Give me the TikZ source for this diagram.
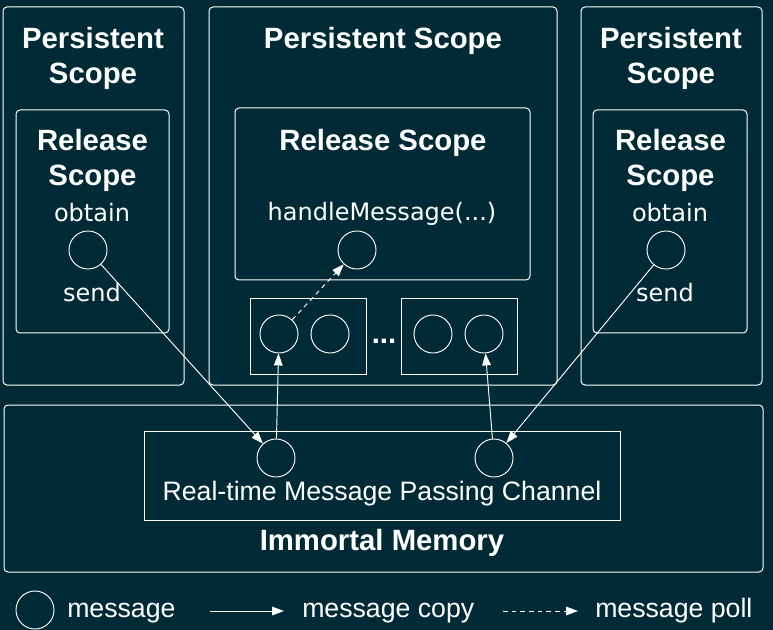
\documentclass[tikz,border=0pt]{standalone}
\usepackage{fontspec}
\setmainfont{Liberation Sans}
\newfontfamily\lightfont{DejaVu Sans}
\usetikzlibrary{arrows.meta}
\definecolor{bgteal}{HTML}{002B36}
\tikzset{
  scopebox/.style={draw=white, line width=0.75pt, rounded corners=3pt},
  plainbox/.style={draw=white, line width=0.75pt},
  msg/.style={circle, draw=white, line width=0.7pt, minimum size=28.5pt, inner sep=0pt},
  heading/.style={font=\fontsize{22}{26}\selectfont\bfseries, text=white, align=center, inner sep=0pt},
  plaintext/.style={font=\fontsize{20}{24}\selectfont, text=white, inner sep=0pt},
  calltext/.style={font=\lightfont\fontsize{18}{22}\selectfont, text=white!85, inner sep=0pt},
  copyarrow/.style={-{Triangle[length=9pt,width=6.5pt]}, white, line width=0.7pt},
  pollarrow/.style={copyarrow, dash pattern=on 3.5pt off 3pt},
}
\begin{document}
\begin{tikzpicture}[x=0.75pt, y=-0.75pt]
    \fill[bgteal] (0,0) rectangle (773,630);

    % persistent scopes
    \draw[scopebox] (3,7) rectangle (184,385);
    \draw[scopebox] (209,7) rectangle (557,385);
    \draw[scopebox] (581,7) rectangle (762,385);
    \node[heading] (psL) at (93,58.5) {Persistent\\Scope};
    \node[heading, anchor=base] (psM) at (383,49) {Persistent Scope};
    \node[heading] (psR) at (671,58.5) {Persistent\\Scope};

    % release scopes
    \draw[scopebox] (16,110) rectangle (169,333);
    \draw[scopebox] (235,108) rectangle (530,280);
    \draw[scopebox] (593,110) rectangle (747,333);
    \node[heading] (rsL) at (92.5,160.5) {Release\\Scope};
    \node[heading, anchor=base] (rsM) at (383,151) {Release Scope};
    \node[heading] (rsR) at (670.5,160.5) {Release\\Scope};

    \node[calltext, anchor=base] (obL) at (92,222) {obtain};
    \node[msg] (mL) at (88,250) {};
    \node[calltext, anchor=base] (sdL) at (92,302) {send};
    \node[calltext, anchor=base] (obR) at (670,222) {obtain};
    \node[msg] (mR) at (666,250) {};
    \node[calltext, anchor=base] (sdR) at (665,302) {send};
    \node[calltext, anchor=base] (hmText) at (382,221) {handleMessage(...)};
    \node[msg] (mH) at (357,250) {};

    % message queues
    \draw[plainbox] (250,299) rectangle (366,374);
    \draw[plainbox] (401,299) rectangle (517,374);
    \node[msg] (qA) at (279,334) {};
    \node[msg] (qB) at (330,334) {};
    \node[msg] (qC) at (433,334) {};
    \node[msg] (qD) at (484,334) {};
    \node[heading, anchor=base] (dots) at (384,344) {...};

    % immortal memory
    \draw[scopebox] (4,405) rectangle (763,572);
    \draw[plainbox] (144,431) rectangle (620,520);
    \node[msg] (cA) at (276,458) {};
    \node[msg] (cB) at (494,458) {};
    \node[plaintext, anchor=base] (chan) at (382,500) {Real-time Message Passing Channel};
    \node[heading, anchor=base] (imm) at (382,550) {Immortal Memory};

    \draw[copyarrow] (mL) -- (cA);
    \draw[copyarrow] (mR) -- (cB);
    \draw[copyarrow] (cA) -- (qA);
    \draw[copyarrow] (cB) -- (qD);
    \draw[pollarrow] (qA) -- (mH);

    % legend
    \node[msg] (legMsg) at (35,610) {};
    \node[plaintext, anchor=base west] (legMsgText) at (67,617) {message};
    \coordinate (cpA) at (210,611);
    \coordinate (cpB) at (284,611);
    \draw[copyarrow] (cpA) -- (cpB);
    \node[plaintext, anchor=base west] (legCopyText) at (302,617) {message copy};
    \coordinate (plA) at (503,611);
    \coordinate (plB) at (578,611);
    \draw[pollarrow] (plA) -- (plB);
    \node[plaintext, anchor=base west] (legPollText) at (595,617) {message poll};
\end{tikzpicture}
\end{document}
